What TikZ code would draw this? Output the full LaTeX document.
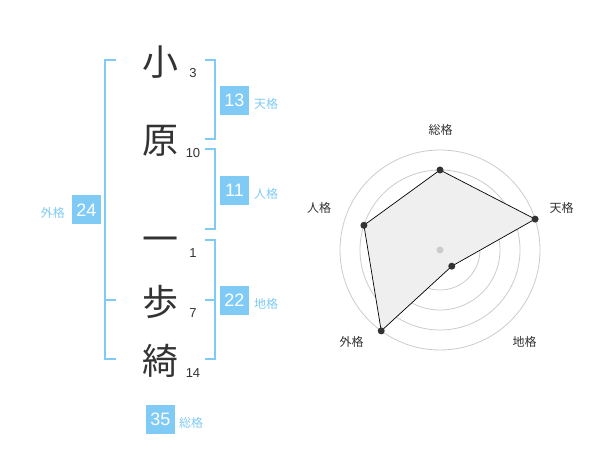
\documentclass[tikz,border=0pt]{standalone}
\usepackage{fontspec}
\setmainfont{Liberation Sans}
\newfontfamily\cjk{Noto Sans CJK JP}
\definecolor{kanjigray}{HTML}{333333}
\definecolor{lblue}{HTML}{80CBF6}
\definecolor{ringgray}{HTML}{CCCCCC}
\definecolor{polyfill}{HTML}{EFEFEF}
\tikzset{
  kanji/.style={font=\cjk\fontsize{36}{36}\selectfont, text=kanjigray, inner sep=0pt},
  strokes/.style={font=\fontsize{13}{13}\selectfont, text=kanjigray, inner sep=0pt},
  valbox/.style={fill=lblue, text=white, minimum size=29pt, inner sep=0pt, font=\fontsize{18}{18}\selectfont},
  vallabel/.style={text=lblue, font=\cjk\fontsize{12}{12}\selectfont, inner sep=0pt},
  bracket/.style={draw=lblue, line width=2pt},
  ring/.style={draw=ringgray, line width=0.8pt},
  radarlabel/.style={font=\cjk\fontsize{12}{12}\selectfont, text=kanjigray, inner sep=0pt},
  radardot/.style={circle, fill=kanjigray, minimum size=7pt, inner sep=0pt},
  polyline/.style={draw=black, line width=0.7pt, fill=polyfill}
}
\begin{document}
\begin{tikzpicture}[x=1pt,y=-1pt]
\useasboundingbox[fill=white] (0,0) rectangle (600,470);
% characters
\node[kanji] (k1) at (160,62) {小};
\node[kanji] (k2) at (160,141) {原};
\node[kanji] (k3) at (160,245) {一};
\node[kanji] (k4) at (160,302) {歩};
\node[kanji] (k5) at (160,361) {綺};
% stroke counts
\node[strokes] (s1) at (193,73) {3};
\node[strokes] (s2) at (193,153) {10};
\node[strokes] (s3) at (193,253) {1};
\node[strokes] (s4) at (193,313) {7};
\node[strokes] (s5) at (193,373) {14};
% brackets
\draw[bracket] (116,60) -- (105,60) -- (105,359) -- (116,359);
\draw[bracket] (105,300) -- (116,300);
\draw[bracket] (205,60) -- (215,60) -- (215,139) -- (205,139);
\draw[bracket] (205,149) -- (215,149) -- (215,229) -- (205,229);
\draw[bracket] (205,240) -- (215,240) -- (215,359) -- (205,359);
\draw[bracket] (205,300) -- (215,300);
% value boxes
\node[valbox] (ten) at (234.5,100.5) {13};
\node[vallabel, anchor=west] (tenl) at (254,104) {天格};
\node[valbox] (jin) at (234.5,190.5) {11};
\node[vallabel, anchor=west] (jinl) at (254,194) {人格};
\node[valbox] (chi) at (234.5,300.5) {22};
\node[vallabel, anchor=west] (chil) at (254,304) {地格};
\node[valbox] (gai) at (86.5,210) {24};
\node[vallabel, anchor=east] (gail) at (65,213) {外格};
\node[valbox] (sou) at (160.5,419) {35};
\node[vallabel, anchor=west] (soul) at (179,423) {総格};
% radar chart
\begin{scope}[shift={(440,250)}, y=1pt]
  \foreach \r in {20,40,60,80,100} \draw[ring] (0,0) circle[radius=\r];
  \coordinate (pA) at (90:80);
  \coordinate (pB) at (18:100);
  \coordinate (pC) at (-54:20);
  \coordinate (pD) at (-126:100);
  \coordinate (pE) at (162:80);
  \draw[polyline] (pA) -- (pB) -- (pC) -- (pD) -- (pE) -- cycle;
  \node[circle, fill=ringgray, minimum size=7pt, inner sep=0pt] (ctr) at (0,0) {};
  \foreach \p in {pA,pB,pC,pD,pE} \node[radardot] at (\p) {};
\end{scope}
\node[radarlabel] (lA) at (440.5,130) {総格};
\node[radarlabel] (lB) at (561.5,208) {天格};
\node[radarlabel] (lE) at (319,208) {人格};
\node[radarlabel] (lD) at (351.5,342) {外格};
\node[radarlabel] (lC) at (524.5,342) {地格};
\end{tikzpicture}
\end{document}
